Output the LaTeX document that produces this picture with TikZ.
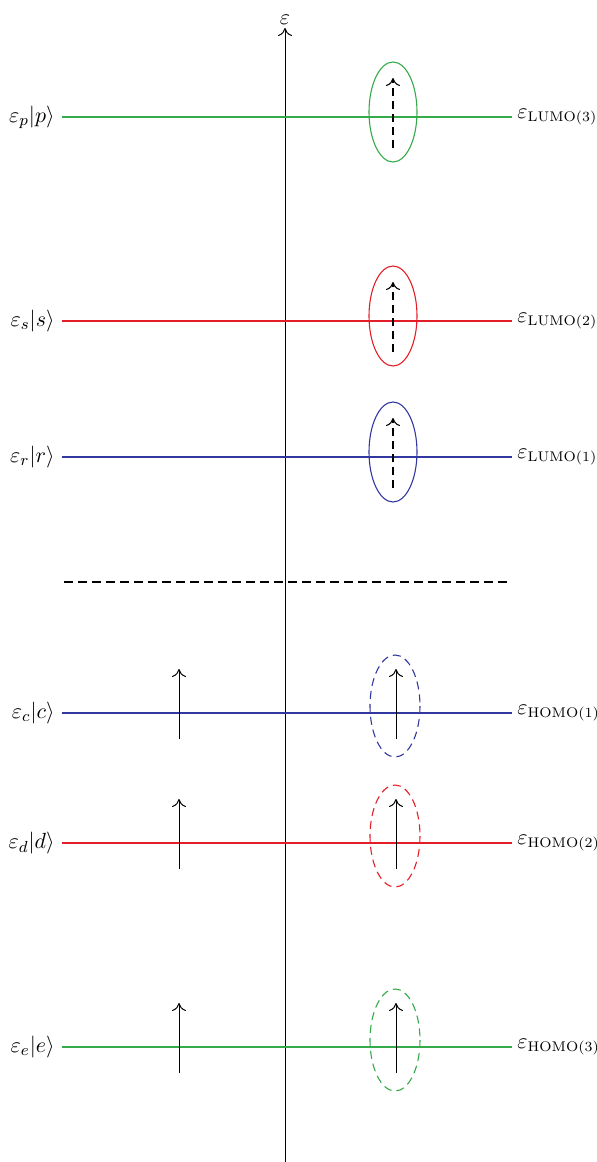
\documentclass[tikz,border=0pt]{standalone}
\usepackage{amsmath}
\usetikzlibrary{arrows.meta}
\definecolor{lgreen}{RGB}{52,170,72}
\definecolor{lred}{RGB}{228,30,38}
\definecolor{lblue}{RGB}{50,56,160}
\begin{document}
\begin{tikzpicture}[x=0.5pt,y=-0.5pt,
  level/.style={line width=0.6pt},
  lbl/.style={inner sep=0pt,font=\fontsize{11}{13}\selectfont},
  rlbl/.style={inner sep=0pt,font=\fontsize{10.5}{12}\selectfont},
  arr/.style={line width=0.5pt,-{To[length=4pt,width=7pt]}},
  darr/.style={line width=0.55pt,dash pattern=on 4pt off 2.5pt,-{To[length=4pt,width=7pt]}},
  orb/.style={line width=0.55pt},
]
\useasboundingbox (0,0) rectangle (596,1162);
% axis
\coordinate (ab) at (285,1162);
\coordinate (at) at (285,28);
\draw[arr] (ab) -- (at);
\node[lbl,anchor=south] (eps) at (285,25) {$\varepsilon$};
% levels
\foreach \y/\c/\l/\r/\n in {117/lgreen/p/LUMO(3)/p, 321/lred/s/LUMO(2)/s, 457/lblue/r/LUMO(1)/r}{
  \coordinate (L\n) at (62,\y);
  \coordinate (R\n) at (512,\y);
  \draw[level,\c] (L\n) -- (R\n);
  \node[lbl,anchor=east] (ll\n) at (55,\y) {$\varepsilon_{\l}|\l\rangle$};
  \node[rlbl,anchor=west] (rl\n) at (517,\y) {$\varepsilon_{\mathrm{\r}}$};
  \draw[orb,\c] (393,\y-5) ellipse [x radius=24, y radius=50];
  \coordinate (da\n) at (393,\y+31);
  \coordinate (db\n) at (393,\y-39);
  \draw[darr] (da\n) -- (db\n);
}
\coordinate (gl) at (64,582);
\coordinate (gr) at (512,582);
\draw[level,dash pattern=on 4.5pt off 2.5pt] (gl) -- (gr);
\foreach \y/\c/\l/\r/\n in {713/lblue/c/HOMO(1)/c, 843/lred/d/HOMO(2)/d, 1047/lgreen/e/HOMO(3)/e}{
  \coordinate (L\n) at (62,\y);
  \coordinate (R\n) at (512,\y);
  \draw[level,\c] (L\n) -- (R\n);
  \node[lbl,anchor=east] (ll\n) at (55,\y) {$\varepsilon_{\l}|\l\rangle$};
  \node[rlbl,anchor=west] (rl\n) at (517,\y) {$\varepsilon_{\mathrm{\r}}$};
  \draw[orb,\c,dash pattern=on 4pt off 2.5pt] (395,\y-7) ellipse [x radius=25, y radius=51];
  \coordinate (ea\n) at (396,\y+26);
  \coordinate (eb\n) at (396,\y-44);
  \draw[arr] (ea\n) -- (eb\n);
  \coordinate (fa\n) at (179,\y+26);
  \coordinate (fb\n) at (179,\y-44);
  \draw[arr] (fa\n) -- (fb\n);
}
\end{tikzpicture}
\end{document}
